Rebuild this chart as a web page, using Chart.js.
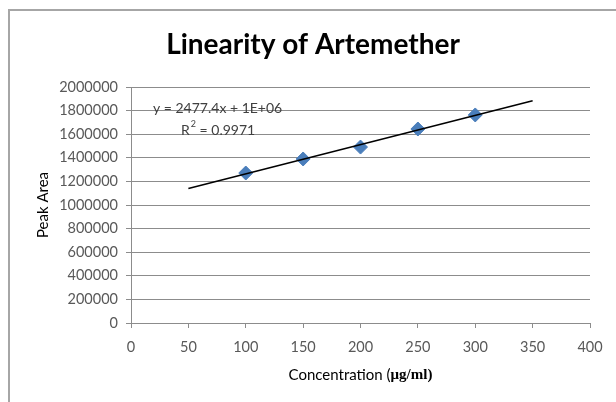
<!DOCTYPE html>
<html>
<head>
<meta charset="utf-8">
<script src="https://cdn.jsdelivr.net/npm/chart.js@4.4.1/dist/chart.umd.min.js"></script>
<style>
    body { margin: 0; background: #fff; }
    #wrap { position: relative; width: 616px; height: 402px; overflow: hidden; }
    #frame { position: absolute; left: 8px; top: 9px; width: 800px; height: 600px;
             border-top: 2px solid #a6a6a6; border-left: 2px solid #a6a6a6; }
    canvas { position: absolute; left: 0; top: 0; }
</style>
</head>
<body>
<div id="wrap">
    <div id="frame"></div>
    <canvas id="graphe" width="616" height="402"></canvas>
</div>
<script>
// Données
const concentrations = [100, 150, 200, 250, 300];
const peakAreas = [1271000, 1390000, 1491000, 1644000, 1763000];
const trendRange = [50, 350];
const xTicks = [0, 50, 100, 150, 200, 250, 300, 350, 400];
const yTicks = [0, 200000, 400000, 600000, 800000, 1000000, 1200000, 1400000, 1600000, 1800000, 2000000];
const chartTitle = 'Linearity of Artemether';
const equationText = 'y = 2477.4x + 1E+06';
const r2Text = ' = 0.9971';

// Droite de régression (moindres carrés)
function fitLine(xs, ys) {
    const n = xs.length;
    const mx = xs.reduce((a, b) => a + b, 0) / n;
    const my = ys.reduce((a, b) => a + b, 0) / n;
    let num = 0, den = 0;
    for (let i = 0; i < n; i++) {
        num += (xs[i] - mx) * (ys[i] - my);
        den += (xs[i] - mx) * (xs[i] - mx);
    }
    const slope = num / den;
    return { slope: slope, intercept: my - slope * mx };
}
const fit = fitLine(concentrations, peakAreas);
const trendPoints = trendRange.map(x => ({ x: x, y: fit.intercept + fit.slope * x }));

const gridColor = '#8c8c8c';
const tickColor = '#595959';
const fontFamily = 'Lato, "Open Sans", sans-serif';

// Textes : titre, équation, titres des axes
const textPlugin = {
    id: 'textes',
    afterDraw(chart) {
        const ctx = chart.ctx;
        const area = chart.chartArea;
        ctx.save();
        ctx.textBaseline = 'middle';

        // titre
        ctx.fillStyle = '#000';
        ctx.textAlign = 'center';
        ctx.font = 'bold 28px ' + fontFamily;
        ctx.fillText(chartTitle, 313, 45);

        ctx.fillStyle = '#404040';
        ctx.textAlign = 'left';
        ctx.font = '14px ' + fontFamily;
        ctx.fillText(equationText, area.left + 22, area.top + 21);
        let x = area.left + 50;
        const y = area.top + 43;
        ctx.fillText('R', x, y);
        x += ctx.measureText('R').width;
        ctx.font = '9px ' + fontFamily;
        ctx.fillText('2', x + 1, y - 6);
        x += ctx.measureText('2').width + 1;
        ctx.font = '14px ' + fontFamily;
        ctx.fillText(r2Text, x, y);

        // titre axe x : police mixte
        ctx.fillStyle = '#000';
        const part1 = 'Concentration (';
        const part2 = 'μg/ml)';
        ctx.font = '15px ' + fontFamily;
        const w1 = ctx.measureText(part1).width;
        ctx.font = 'bold 15px "Liberation Serif", serif';
        const w2 = ctx.measureText(part2).width;
        let sx = (area.left + area.right) / 2 - (w1 + w2) / 2;
        ctx.font = '15px ' + fontFamily;
        ctx.fillText(part1, sx, 375);
        ctx.font = 'bold 15px "Liberation Serif", serif';
        ctx.fillText(part2, sx + w1, 375);

        // titre axe y
        ctx.translate(43, (area.top + area.bottom) / 2);
        ctx.rotate(-Math.PI / 2);
        ctx.textAlign = 'center';
        ctx.font = '15px ' + fontFamily;
        ctx.fillText('Peak Area', 0, 0);
        ctx.restore();
    }
};

const ctx = document.getElementById('graphe').getContext('2d');
new Chart(ctx, {
    type: 'scatter',
    data: {
        datasets: [{
            label: 'Peak Area',
            data: concentrations.map((c, i) => ({ x: c, y: peakAreas[i] })),
            pointStyle: 'rectRot',
            pointRadius: 7,
            backgroundColor: '#4a7ebb',
            borderColor: '#4a7ebb',
            order: 1
        }, {
            label: 'Linear',
            type: 'line',
            data: trendPoints,
            borderColor: '#000',
            borderWidth: 1.5,
            pointRadius: 0,
            fill: false,
            order: 0
        }]
    },
    options: {
        responsive: false,
        animation: false,
        devicePixelRatio: 1,
        layout: { padding: { left: 0, right: 26, top: 87, bottom: 0 } },
        plugins: {
            legend: { display: false },
            tooltip: { enabled: false },
            title: { display: false }
        },
        scales: {
            x: {
                type: 'linear',
                min: 0,
                max: 400,
                afterBuildTicks: axis => { axis.ticks = xTicks.map(v => ({ value: v })); },
                afterFit: axis => { axis.height = 79; },
                grid: { drawOnChartArea: false, drawTicks: true, tickLength: 5, color: gridColor },
                border: { color: gridColor },
                ticks: { color: tickColor, padding: 11, font: { family: fontFamily, size: 14.5 }, callback: v => String(v) }
            },
            y: {
                min: 0,
                max: 2000000,
                afterBuildTicks: axis => { axis.ticks = yTicks.map(v => ({ value: v })); },
                afterFit: axis => { axis.width = 131; },
                grid: { color: gridColor, tickLength: 5 },
                border: { color: gridColor },
                ticks: { color: tickColor, padding: 8, font: { family: fontFamily, size: 14.5 }, callback: v => String(v) }
            }
        }
    },
    plugins: [textPlugin]
});
</script>
</body>
</html>
